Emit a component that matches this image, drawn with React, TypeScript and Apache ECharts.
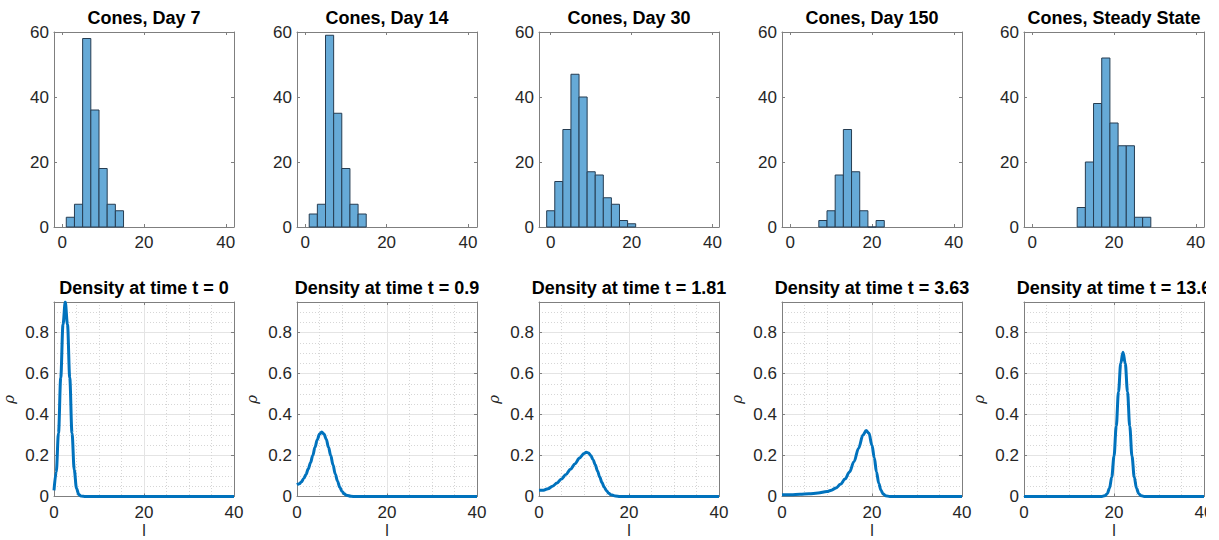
import React, { useEffect, useRef } from "react";
import * as echarts from "echarts";

// ---------- data: histograms (bin width 2, first bin edge, counts) ----------
const BIN_WIDTH = 2;
const histTitles = ["Cones, Day 7", "Cones, Day 14", "Cones, Day 30", "Cones, Day 150", "Cones, Steady State"];
const histStarts = [1, 1, -1, 7, 11];
const day7Counts = [3, 7, 58, 36, 18, 7, 5];
const day14Counts = [4, 7, 59, 35, 18, 7, 4];
const day30Counts = [5, 14, 30, 47, 40, 17, 16, 9, 7, 2, 1];
const day150Counts = [2, 5, 16, 30, 17, 5, 0, 2];
const steadyCounts = [6, 20, 38, 52, 32, 25, 25, 3, 3];
const histCounts = [day7Counts, day14Counts, day30Counts, day150Counts, steadyCounts];
const histXMin = [-2, -2, -2.9, -2, -2];
const histXMax = [42, 42.2, 41.6, 42, 42];
const histXTicks = [0, 20, 40];
const histYTicks = [0, 20, 40, 60];

// ---------- data: density curves ----------
const densTitles = [
  "Density at time t = 0",
  "Density at time t = 0.9",
  "Density at time t = 1.81",
  "Density at time t = 3.63",
  "Density at time t = 13.6",
];
const t0X = [0, 0.5, 1, 1.5, 2, 2.5, 3, 3.5, 4, 4.5, 5, 5.5, 6, 7, 40];
const t0Y = [0.03, 0.12, 0.31, 0.58, 0.84, 0.95, 0.84, 0.58, 0.31, 0.13, 0.04, 0.01, 0.002, 0, 0];
const t1X = [0, 0.5, 1, 1.5, 2, 2.5, 3, 3.5, 4, 4.5, 5, 5.5, 6, 6.5, 7, 7.5, 8, 8.5, 9, 9.5, 10, 10.5, 11, 12, 13, 40];
const t1Y = [0.057, 0.062, 0.072, 0.088, 0.108, 0.135, 0.165, 0.2, 0.24, 0.277, 0.305, 0.315, 0.305, 0.28, 0.24, 0.2, 0.155, 0.11, 0.075, 0.045, 0.025, 0.013, 0.006, 0.001, 0, 0];
const t2X = [0, 1, 2, 3, 4, 5, 6, 7, 8, 9, 10, 10.5, 11, 11.5, 12, 12.5, 13, 13.5, 14, 14.5, 15, 15.5, 16, 17, 18, 40];
const t2Y = [0.03, 0.031, 0.038, 0.05, 0.066, 0.086, 0.108, 0.133, 0.16, 0.188, 0.21, 0.216, 0.213, 0.2, 0.18, 0.155, 0.125, 0.095, 0.068, 0.045, 0.028, 0.016, 0.008, 0.002, 0, 0];
const t3X = [0, 2, 4, 6, 8, 10, 11, 12, 13, 14, 15, 16, 17, 18, 18.7, 19.3, 20, 20.5, 21, 21.5, 22, 22.5, 23, 24, 40];
const t3Y = [0.008, 0.009, 0.011, 0.013, 0.017, 0.024, 0.031, 0.042, 0.06, 0.085, 0.12, 0.17, 0.235, 0.3, 0.322, 0.31, 0.25, 0.19, 0.12, 0.065, 0.03, 0.012, 0.004, 0, 0];
const t4X = [0, 17, 17.5, 18, 18.5, 19, 19.5, 20, 20.5, 21, 21.5, 22, 22.5, 23, 23.5, 24, 24.5, 25, 25.5, 26, 26.5, 27, 40];
const t4Y = [0, 0, 0.001, 0.004, 0.014, 0.04, 0.095, 0.196, 0.343, 0.512, 0.651, 0.705, 0.651, 0.512, 0.343, 0.196, 0.095, 0.04, 0.014, 0.004, 0.001, 0, 0];
const densX = [t0X, t1X, t2X, t3X, t4X];
const densY = [t0Y, t1Y, t2Y, t3Y, t4Y];
const densXTicks = [0, 20, 40];
const densYTicks = [0, 0.2, 0.4, 0.6, 0.8];
const densYMax = 0.95;

// ---------- layout ----------
const LEFTS = [54, 297, 539, 782, 1024];
const W = 180;
const TOP1 = 32;
const H1 = 195;
const TOP2 = 302;
const H2 = 194.5;
const CROP_X = 1206; // the reference picture is blank to the right of this

const FONT = '"Liberation Sans", Arial, Helvetica, sans-serif';
const AXIS_COLOR = "#7f7f7f";
const TEXT_COLOR = "#262626";
const BAR_FILL = "#66aad7";
const BAR_EDGE = "#263d52";
const LINE_COLOR = "#0072bd";

function makeX(gridIndex: number, min: number, max: number, ticks: number[], grid: boolean, name?: string) {
  const bottom: any = {
    type: "value",
    gridIndex,
    min,
    max,
    position: "bottom",
    axisLine: { show: true, onZero: false, lineStyle: { color: AXIS_COLOR, width: 1 } },
    axisTick: { show: true, inside: true, length: 3, customValues: ticks, lineStyle: { color: AXIS_COLOR } },
    axisLabel: { show: true, customValues: ticks, margin: 7, color: TEXT_COLOR, fontSize: 17, fontFamily: FONT },
    splitLine: { show: grid, lineStyle: { color: "#e4e4e4", width: 1 } },
    minorTick: { show: false, splitNumber: 4 },
    minorSplitLine: { show: grid, lineStyle: { color: "#d6d6d6", width: 1, type: [1, 2] } },
  };
  if (grid) bottom.interval = 20;
  if (name) {
    bottom.name = name;
    bottom.nameLocation = "middle";
    bottom.nameGap = 26;
    bottom.nameTextStyle = { color: TEXT_COLOR, fontSize: 16, lineHeight: 16, fontFamily: FONT };
  }
  const top: any = {
    type: "value",
    gridIndex,
    min,
    max,
    position: "top",
    axisLine: { show: true, onZero: false, lineStyle: { color: AXIS_COLOR, width: 1 } },
    axisTick: { show: true, inside: true, length: 3, customValues: ticks, lineStyle: { color: AXIS_COLOR } },
    axisLabel: { show: false },
    splitLine: { show: false },
  };
  return [bottom, top];
}

function makeY(gridIndex: number, max: number, interval: number, ticks: number[], grid: boolean, name?: string) {
  const left: any = {
    type: "value",
    gridIndex,
    min: 0,
    max,
    interval,
    position: "left",
    axisLine: { show: true, onZero: false, lineStyle: { color: AXIS_COLOR, width: 1 } },
    axisTick: { show: true, inside: true, length: 3, customValues: ticks, lineStyle: { color: AXIS_COLOR } },
    axisLabel: { show: true, customValues: ticks, margin: 5, color: TEXT_COLOR, fontSize: 17, fontFamily: FONT },
    splitLine: { show: grid, lineStyle: { color: "#e4e4e4", width: 1 } },
    minorTick: { show: false, splitNumber: 4 },
    minorSplitLine: { show: grid, lineStyle: { color: "#d6d6d6", width: 1, type: [1, 2] } },
  };
  if (name) {
    left.name = name;
    left.nameLocation = "middle";
    left.nameGap = 38;
    left.nameRotate = 90;
    left.nameTextStyle = { color: TEXT_COLOR, fontSize: 15, fontStyle: "italic", fontFamily: '"DejaVu Serif", serif' };
  }
  const right: any = {
    type: "value",
    gridIndex,
    min: 0,
    max,
    interval,
    position: "right",
    axisLine: { show: true, onZero: false, lineStyle: { color: AXIS_COLOR, width: 1 } },
    axisTick: { show: true, inside: true, length: 3, customValues: ticks, lineStyle: { color: AXIS_COLOR } },
    axisLabel: { show: false },
    splitLine: { show: false },
  };
  return [left, right];
}

function buildOption() {
  const grids: any[] = [];
  const xAxes: any[] = [];
  const yAxes: any[] = [];
  const series: any[] = [];
  const graphics: any[] = [];

  // top row: histograms
  for (let i = 0; i < 5; i++) {
    const g = grids.length;
    grids.push({ left: LEFTS[i], top: TOP1, width: W, height: H1, containLabel: false, outerBoundsMode: "none" });
    xAxes.push(...makeX(g, histXMin[i], histXMax[i], histXTicks, false));
    yAxes.push(...makeY(g, 60, 20, histYTicks, false));
    const data = histCounts[i].map((c, k) => {
      const x0 = histStarts[i] + k * BIN_WIDTH;
      return [x0, x0 + BIN_WIDTH, c];
    });
    series.push({
      type: "custom",
      xAxisIndex: 2 * g,
      yAxisIndex: 2 * g,
      data,
      encode: { x: [0, 1], y: 2 },
      renderItem: (_p: any, api: any) => {
        const a = api.coord([api.value(0), api.value(2)]);
        const b = api.coord([api.value(1), 0]);
        return {
          type: "rect",
          shape: { x: a[0], y: a[1], width: b[0] - a[0], height: b[1] - a[1] },
          style: { fill: BAR_FILL, stroke: BAR_EDGE, lineWidth: 1 },
        };
      },
      z: 3,
    });
    graphics.push({
      type: "text",
      x: LEFTS[i] + W / 2,
      y: 18,
      style: {
        text: histTitles[i],
        align: "center",
        verticalAlign: "middle",
        fontSize: 18,
        fontWeight: "bold",
        fontFamily: FONT,
        fill: "#000",
      },
    });
  }

  // bottom row: density curves
  for (let i = 0; i < 5; i++) {
    const g = grids.length;
    grids.push({ left: LEFTS[i], top: TOP2, width: W, height: H2, containLabel: false, outerBoundsMode: "none" });
    xAxes.push(...makeX(g, 0, 40, densXTicks, true, "l"));
    yAxes.push(...makeY(g, densYMax, 0.2, densYTicks, true, "ρ"));
    series.push({
      type: "line",
      xAxisIndex: 2 * g,
      yAxisIndex: 2 * g,
      data: densX[i].map((x, k) => [x, densY[i][k]]),
      showSymbol: false,
      symbol: "none",
      smooth: 0.35,
      smoothMonotone: "x",
      lineStyle: { color: LINE_COLOR, width: 3 },
      z: 3,
    });
    graphics.push({
      type: "text",
      x: LEFTS[i] + W / 2,
      y: 288,
      style: {
        text: densTitles[i],
        align: "center",
        verticalAlign: "middle",
        fontSize: 18,
        fontWeight: "bold",
        fontFamily: FONT,
        fill: "#000",
      },
    });
  }

  // the reference is cut off at its right edge
  graphics.push({
    type: "rect",
    z: 100,
    shape: { x: CROP_X, y: 0, width: 1219 - CROP_X, height: 540 },
    style: { fill: "#ffffff" },
  });

  return {
    animation: false,
    backgroundColor: "#ffffff",
    grid: grids,
    xAxis: xAxes,
    yAxis: yAxes,
    series,
    graphic: graphics,
  };
}

export default function App() {
  const ref = useRef<HTMLDivElement>(null);
  useEffect(() => {
    if (!ref.current) return;
    const chart = echarts.init(ref.current, undefined, { renderer: "svg" });
    chart.setOption(buildOption() as any);
    return () => chart.dispose();
  }, []);
  return (
    <div
      ref={ref}
      style={{ position: "fixed", left: 0, top: 0, width: 1219, height: 540, background: "#fff" }}
    />
  );
}
